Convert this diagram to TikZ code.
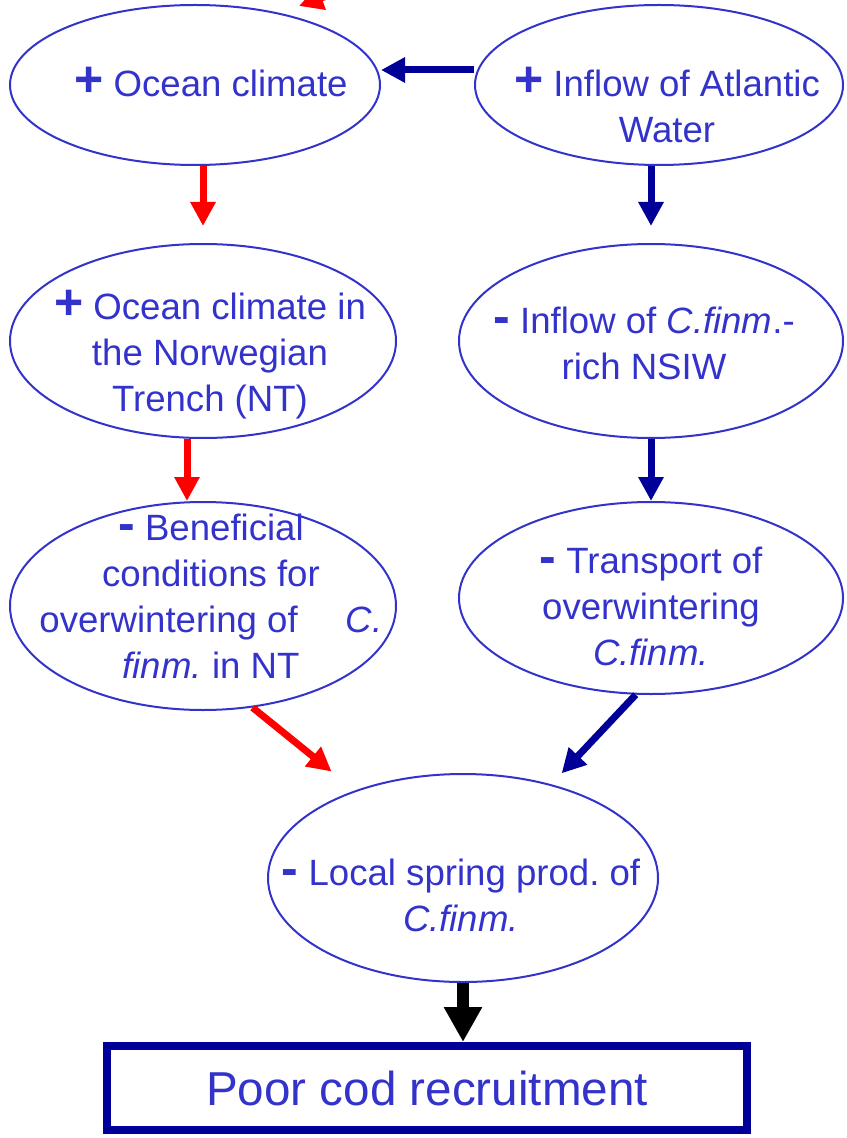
\documentclass[tikz,border=0pt]{standalone}
\usepackage{fontspec}
\setmainfont{Liberation Sans}
\usepackage{tikz}
\usetikzlibrary{arrows.meta,shapes.geometric}
\definecolor{BubbleBlue}{HTML}{3333CC}
\definecolor{LinkNavy}{HTML}{000099}
\definecolor{LinkRed}{HTML}{FF0000}
\newcommand{\signmark}[1]{{\fontsize{25}{23}\selectfont\bfseries #1}}
\frenchspacing

\begin{document}
\begin{tikzpicture}[
  x=0.5pt,
  y=-0.5pt,
  font=\fontsize{18.3}{23}\selectfont,
  bubble/.style={draw=BubbleBlue, line width=1pt, ellipse, inner sep=0pt},
  bubbletext/.style={text=BubbleBlue, align=center, inner sep=0pt},
  redlink/.style={-{Triangle[length=12pt,width=12pt]}, line width=3.5pt, LinkRed},
  bluelink/.style={-{Triangle[length=12pt,width=12pt]}, line width=3.5pt, LinkNavy},
  outcome/.style={draw=LinkNavy, line width=4pt, minimum width=320pt, minimum height=42pt, inner sep=0pt, text=BubbleBlue, font=\fontsize{23.8}{28}\selectfont}
]
\useasboundingbox (0,0) rectangle (846,1138);
\clip (0,0) rectangle (846,1138);
% ellipses
\foreach \name/\x/\y/\w/\h in {
  ocean/195/85/185/80,
  atlantic/659/85/184/80,
  trench/203/341/193/97,
  nsiw/651/341/192/97,
  benefit/203/606/193/104,
  transport/651/598/192/96,
  spring/463/878/195/104
} {
  \node[bubble, minimum width=\w pt, minimum height=\h pt] (\name) at (\x,\y) {};
}
% texts in the ellipses
\node[bubbletext] (ocean-txt) at (211,82) {\signmark{+} Ocean climate};
\node[bubbletext] (atlantic-txt) at (667,105) {\signmark{+} Inflow of Atlantic\\Water};
\node[bubbletext] (trench-txt) at (210,354.5) {\signmark{+} Ocean climate in\\the Norwegian\\Trench (NT)};
\node[bubbletext] (nsiw-txt) at (644,343) {\signmark{-} Inflow of \textit{C.finm}.-\\rich NSIW};
\node[bubbletext] (benefit-txt) at (211,596.5) {\signmark{-} Beneficial\\conditions for\\overwintering of \hspace{19pt}\textit{C.}\\\textit{finm.} in NT};
\node[bubbletext] (transport-txt) at (651,606.5) {\signmark{-} Transport of\\overwintering\\\textit{C.finm.}};
\node[bubbletext] (spring-txt) at (461,895.5) {\signmark{-} Local spring prod. of\\\textit{C.finm.}};
\node[outcome] (cod) at (427,1088) {Poor cod recruitment};

% arrows
\coordinate (nao) at (440,-45);
\coordinate (nao-tip) at (299,6);
\draw[redlink] (nao) -- (nao-tip);
\draw[bluelink] ([yshift=7.5pt]atlantic.west) -- ([yshift=7.5pt]ocean.east);
\draw[redlink, shorten >=8.5pt] (ocean.south -| trench) -- (trench);
\draw[bluelink, shorten >=8.5pt] (atlantic.south -| nsiw) -- (nsiw);
\draw[redlink] ([xshift=-8pt]trench.south) -- ([xshift=-8pt]benefit.north);
\draw[bluelink] (nsiw) -- (transport);
\draw[redlink, shorten >=15pt] (benefit.-64.6) -- (spring);
\draw[bluelink, shorten >=7.5pt] (transport.261) -- (spring);
\draw[-{Triangle[length=17.5pt,width=18pt]}, line width=6pt] (spring.south) -- (spring.south |- cod.north);
\end{tikzpicture}
\end{document}
